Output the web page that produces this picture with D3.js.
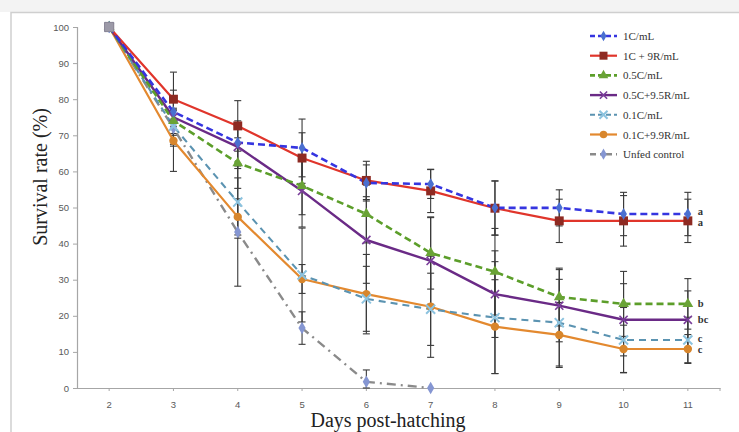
<!DOCTYPE html>
<html>
<head>
<meta charset="utf-8">
<script src="https://cdn.jsdelivr.net/npm/d3@7"></script>
<style>
  html, body { margin: 0; padding: 0; background: #ffffff; }
  svg { display: block; }
</style>
</head>
<body>
<div id="chart"></div>
<script>
// ---- data ----
const days = ["2", "3", "4", "5", "6", "7", "8", "9", "10", "11"];
const yTicks = [0, 10, 20, 30, 40, 50, 60, 70, 80, 90, 100];
const seriesNames = ["1C/mL", "1C + 9R/mL", "0.5C/mL", "0.5C+9.5R/mL", "0.1C/mL", "0.1C+9.9R/mL", "Unfed control"];

const s1C      = [100, 76.5, 68, 66.5, 56.8, 56.5, 49.9, 49.9, 48.2, 48.2];
const s1C9R    = [100, 80, 72.6, 63.7, 57.5, 54.6, 49.8, 46.3, 46.3, 46.3];
const s05C     = [100, 74, 62.3, 56, 48.2, 37.4, 32.2, 25.2, 23.3, 23.3];
const s05C95R  = [100, 75, 66.8, 54.6, 41, 35.2, 26, 22.8, 18.9, 18.9];
const s01C     = [100, 72.5, 51.5, 31.3, 24.7, 21.8, 19.5, 18.1, 13.3, 13.3];
const s01C99R  = [100, 68.5, 47.4, 30.2, 26, 22.5, 17, 14.7, 10.8, 10.8];
const sUnfed   = [100, 72, 43.2, 16.6, 1.7, 0];

const e1C      = [0, 6, 6, 8, 5, 4, 7.5, 5, 6, 6];
const e1C9R    = [0, 7.5, 7, 7, 5.3, 6, 7.5, 6, 7, 6];
const e05C     = [0, 6, 7, 8, 8, 10, 12, 8, 9, 7];
const e05C95R  = [0, 5, 6, 10, 12, 12, 12, 10, 10, 8];
const e01C     = [0, 5, 10, 13, 9, 10, 15.5, 12, 9, 6.3];
const e01C99R  = [0, 8.5, 5, 4, 11, 14, 13, 9, 6.6, 4];
const eUnfed   = [0, 5, 15, 4.5, 3.3, 0];

const groupLetters = ["a", "a", "b", "bc", "c", "c"];

// ---- layout ----
const W = 739, H = 432;
const margin = { left: 77, top: 27, right: 19, bottom: 44 };
const plotW = 720 - margin.left, plotH = 388 - margin.top;

const svg = d3.select("#chart").append("svg").attr("width", W).attr("height", H);

// page background strip + frame
svg.append("rect").attr("x", 0).attr("y", 0).attr("width", W).attr("height", 12).attr("fill", "#f3f3f3");
svg.append("rect").attr("x", 11).attr("y", 12.5).attr("width", W + 20).attr("height", H + 20)
  .attr("fill", "#ffffff").attr("stroke", "#cfcfcf").attr("stroke-width", 1.5);

const x = d3.scaleBand().domain(days).range([margin.left, margin.left + plotW]);
const xc = d => x(d) + x.bandwidth() / 2;
const y = d3.scaleLinear().domain([0, 100]).range([margin.top + plotH, margin.top]);

// axes
const yAxis = d3.axisLeft(y).tickValues(yTicks).tickSize(4).tickPadding(4);
const gy = svg.append("g").attr("transform", `translate(${margin.left},0)`).call(yAxis);
gy.select(".domain").attr("stroke", "#a6a6a6").attr("stroke-width", 1.2);
gy.selectAll(".tick line").attr("stroke", "#a6a6a6");
gy.selectAll(".tick text").attr("fill", "#595959").attr("font-family", "Liberation Sans, Arial, sans-serif").attr("font-size", 9.5);

const xAxis = d3.axisBottom(x).tickSize(3).tickPadding(10).tickSizeOuter(0);
const gx = svg.append("g").attr("transform", `translate(0,${margin.top + plotH})`).call(xAxis);
gx.select(".domain").attr("stroke", "#a6a6a6").attr("stroke-width", 1.2);
gx.selectAll(".tick line").attr("stroke", "#a6a6a6");
gx.selectAll(".tick text").attr("fill", "#595959").attr("font-family", "Liberation Sans, Arial, sans-serif").attr("font-size", 9.5);
gx.append("line").attr("x1", margin.left + plotW).attr("x2", margin.left + plotW).attr("y1", 0).attr("y2", 3).attr("stroke", "#a6a6a6");

// axis titles
svg.append("text")
  .attr("transform", `translate(47,177) rotate(-90)`)
  .attr("text-anchor", "middle")
  .attr("font-family", "Liberation Serif, Times New Roman, serif")
  .attr("font-size", 20).attr("fill", "#222")
  .text("Survival rate (%)");
svg.append("text")
  .attr("x", 388).attr("y", 427)
  .attr("text-anchor", "middle")
  .attr("font-family", "Liberation Serif, Times New Roman, serif")
  .attr("font-size", 20).attr("fill", "#222")
  .text("Days post-hatching");

// series config
const series = [
  { name: seriesNames[0], vals: s1C, err: e1C, color: "#3535e0", mcolor: "#4a6fd0", dash: "7,4", width: 2.6, shape: "diamond", msize: 40 },
  { name: seriesNames[1], vals: s1C9R, err: e1C9R, color: "#e0352b", mcolor: "#8e2a22", dash: null, width: 2.2, shape: "square", msize: 80 },
  { name: seriesNames[2], vals: s05C, err: e05C, color: "#5c9e2a", mcolor: "#6aa336", dash: "7,4", width: 2.6, shape: "triangle", msize: 50 },
  { name: seriesNames[3], vals: s05C95R, err: e05C95R, color: "#6a2a86", mcolor: "#7a3e9a", dash: null, width: 2.4, shape: "cross", msize: 45 },
  { name: seriesNames[4], vals: s01C, err: e01C, color: "#5b93b1", mcolor: "#8cc3df", dash: "7,5", width: 2.1, shape: "x", msize: 55 },
  { name: seriesNames[5], vals: s01C99R, err: e01C99R, color: "#e3892f", mcolor: "#d8862c", dash: null, width: 2.2, shape: "circle", msize: 55 },
  { name: seriesNames[6], vals: sUnfed, err: eUnfed, color: "#8a8a8a", mcolor: "#8596d2", dash: "9,5,2,5", width: 2.4, shape: "diamond", msize: 45 }
];

const symType = {
  diamond: d3.symbolDiamond, square: d3.symbolSquare, triangle: d3.symbolTriangle,
  cross: d3.symbolCross, x: d3.symbolX, circle: d3.symbolCircle
};

function drawMarker(g, s, cx, cy, size) {
  const p = g.append("path").attr("transform", `translate(${cx},${cy})`);
  if (s.shape === "x" || s.shape === "cross") {
    p.attr("d", d3.symbol().type(d3.symbolX).size(size || s.msize)()).attr("fill", "none")
      .attr("stroke", s.mcolor).attr("stroke-width", s.shape === "x" ? 2 : 1.6);
  } else {
    p.attr("d", d3.symbol().type(symType[s.shape]).size(size || s.msize)()).attr("fill", s.mcolor);
  }
}

// error bars
const gErr = svg.append("g");
series.forEach(s => {
  s.vals.forEach((v, i) => {
    const e = s.err[i];
    if (!e) return;
    const cx = xc(days[i]);
    const y1 = y(Math.min(100, v + e)), y2 = y(Math.max(0, v - e));
    gErr.append("line").attr("x1", cx).attr("x2", cx).attr("y1", y1).attr("y2", y2).attr("stroke", "#3a3a3a").attr("stroke-width", 1.1);
    [y1, y2].forEach(yy => gErr.append("line").attr("x1", cx - 3.5).attr("x2", cx + 3.5).attr("y1", yy).attr("y2", yy).attr("stroke", "#3a3a3a").attr("stroke-width", 1.1));
  });
});

// lines
const line = d3.line().x((d, i) => xc(days[i])).y(d => y(d));
const drawOrder = [6, 5, 4, 3, 2, 1, 0];
drawOrder.forEach(k => {
  const s = series[k];
  svg.append("path").datum(s.vals).attr("d", line).attr("fill", "none")
    .attr("stroke", s.color).attr("stroke-width", s.width)
    .attr("stroke-dasharray", s.dash).attr("stroke-linejoin", "round");
});
// markers
drawOrder.forEach(k => {
  const s = series[k];
  const g = svg.append("g");
  s.vals.forEach((v, i) => drawMarker(g, s, xc(days[i]), y(v)));
});
// day-2 start marker (grey square where all series overlap)
svg.append("path").attr("d", d3.symbol().type(d3.symbolSquare).size(85)())
  .attr("transform", `translate(${xc(days[0])},${y(s1C[0])})`).attr("fill", "#9c9aa8").attr("stroke", "#8a8898");

// group letters
const last = days.length - 1;
const letterOff = [1, 5, 3, 3, 2, 4];
series.slice(0, 6).forEach((s, k) => {
  const yy = y(s.vals[last]);
  svg.append("text").attr("x", xc(days[last]) + 10).attr("y", yy + letterOff[k])
    .attr("font-family", "Liberation Serif, Times New Roman, serif")
    .attr("font-weight", "bold").attr("font-size", 10.5).attr("fill", "#333")
    .text(groupLetters[k]);
});

// legend
const lg = svg.append("g");
series.forEach((s, k) => {
  const ly = 36 + k * 19.7;
  lg.append("line").attr("x1", 590).attr("x2", 617).attr("y1", ly).attr("y2", ly)
    .attr("stroke", s.color).attr("stroke-width", s.width).attr("stroke-dasharray", s.dash ? (k === 6 ? "6,4,2,4" : "5,3") : null);
  drawMarker(lg, s, 603.5, ly, s.msize * 0.8);
  lg.append("text").attr("x", 623).attr("y", ly + 4)
    .attr("font-family", "Liberation Serif, Times New Roman, serif")
    .attr("font-size", 11).attr("fill", "#333").text(s.name);
});
</script>
</body>
</html>
